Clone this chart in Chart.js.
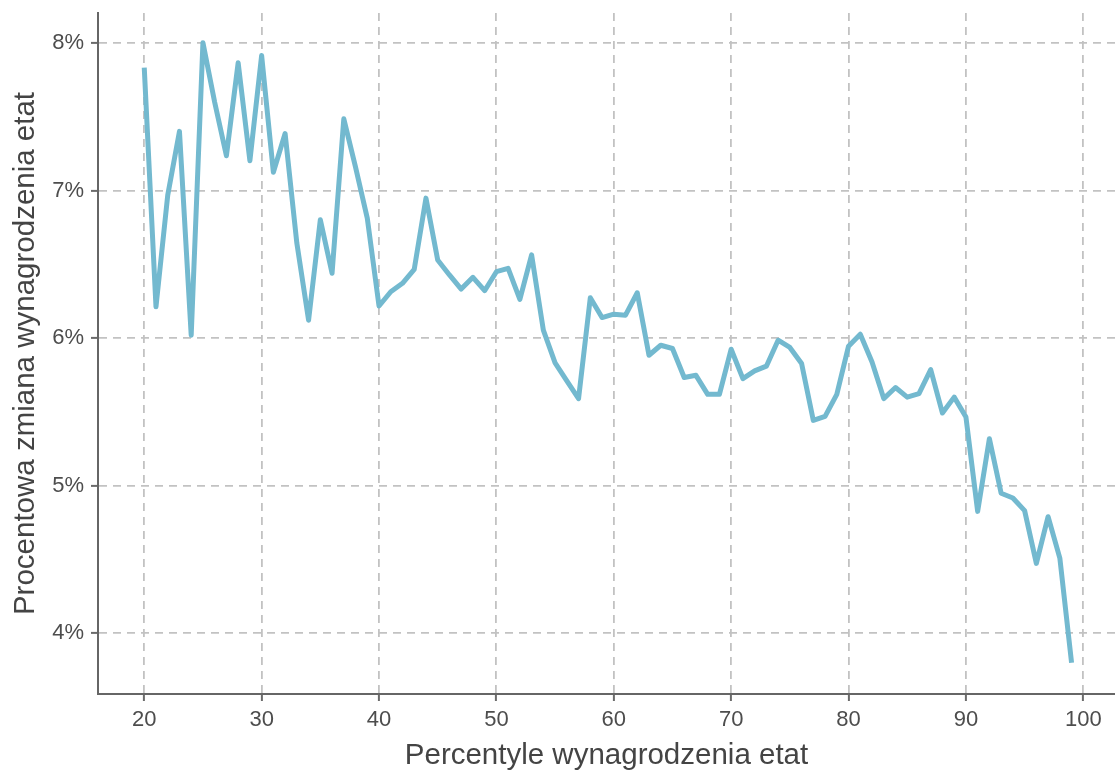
<!DOCTYPE html>
<html>
<head>
<meta charset="utf-8">
<script src="https://cdn.jsdelivr.net/npm/chart.js@4/dist/chart.umd.min.js"></script>
<style>
  html, body { margin:0; padding:0; background:#fff; }
  #wrap { width:1115px; height:774px; }
</style>
</head>
<body>
<div id="wrap"><canvas id="chart" width="1115" height="774"></canvas></div>
<script>
// percentyle 20..99
const percentiles = [
  20, 21, 22, 23, 24, 25, 26, 27, 28, 29,
  30, 31, 32, 33, 34, 35, 36, 37, 38, 39,
  40, 41, 42, 43, 44, 45, 46, 47, 48, 49,
  50, 51, 52, 53, 54, 55, 56, 57, 58, 59,
  60, 61, 62, 63, 64, 65, 66, 67, 68, 69,
  70, 71, 72, 73, 74, 75, 76, 77, 78, 79,
  80, 81, 82, 83, 84, 85, 86, 87, 88, 89,
  90, 91, 92, 93, 94, 95, 96, 97, 98, 99
];

// procentowa zmiana (w %)
const changePct = [
  7.835, 6.213, 6.97, 7.403, 6.02, 8.005, 7.6, 7.238, 7.868, 7.204,
  7.918, 7.125, 7.388, 6.644, 6.122, 6.803, 6.44, 7.488, 7.16, 6.814,
  6.218, 6.315, 6.372, 6.467, 6.95, 6.53, 6.429, 6.333, 6.413, 6.322,
  6.451, 6.474, 6.263, 6.565, 6.054, 5.832, 5.71, 5.59, 6.274, 6.14,
  6.163, 6.156, 6.308, 5.884, 5.952, 5.93, 5.733, 5.748, 5.619, 5.619,
  5.925, 5.726, 5.778, 5.81, 5.986, 5.937, 5.828, 5.442, 5.469, 5.619,
  5.946, 6.027, 5.839, 5.59, 5.665, 5.60, 5.624, 5.787, 5.492, 5.60,
  5.465, 4.825, 5.318, 4.948, 4.916, 4.83, 4.472, 4.789, 4.508, 3.798
];

const xTicks = [20, 30, 40, 50, 60, 70, 80, 90, 100];
const yTicks = [4, 5, 6, 7, 8];

const points = percentiles.map((p, i) => ({ x: p, y: changePct[i] }));

const font = "'Liberation Sans', Arial, sans-serif";

// shared grid / axis look
const gridOpts = {
    color: '#c2c2c2',
    lineWidth: 1.8,
    tickLength: 7,
    tickColor: '#6b6b6b',
    tickWidth: 2,
    tickBorderDash: []
};
const borderOpts = { display: true, color: '#666', width: 2, dash: [8, 6] };

new Chart(document.getElementById('chart').getContext('2d'), {
    type: 'line',
    data: {
        datasets: [{
            data: points,
            borderColor: '#73b9cf',
            borderWidth: 5,
            borderJoinStyle: 'round',
            borderCapStyle: 'butt',
            pointRadius: 0,
            tension: 0,
            fill: false
        }]
    },
    options: {
        responsive: false,
        animation: false,
        devicePixelRatio: 1,
        layout: { padding: { top: 13, right: 0, bottom: 0, left: 0 } },
        plugins: { legend: { display: false }, tooltip: { enabled: false } },
        scales: {
            x: {
                type: 'linear',
                min: 16.06,
                max: 102.7,
                afterBuildTicks: s => { s.ticks = xTicks.map(v => ({ value: v })); },
                afterFit: s => { s.height = 80; s.paddingLeft = 0; s.paddingRight = 0; },
                grid: gridOpts,
                border: borderOpts,
                ticks: {
                    color: '#4d4d4d',
                    font: { family: font, size: 22 },
                    padding: 6,
                    maxRotation: 0
                },
                title: {
                    display: true,
                    text: 'Percentyle wynagrodzenia etat',
                    color: '#444',
                    font: { family: font, size: 29.5 },
                    padding: { top: 2, bottom: 0 }
                }
            },
            y: {
                min: 3.586,
                max: 8.206,
                afterBuildTicks: s => { s.ticks = yTicks.map(v => ({ value: v })); },
                afterFit: s => { s.width = 98; s.paddingTop = 0; s.paddingBottom = 0; },
                grid: gridOpts,
                border: borderOpts,
                ticks: {
                    color: '#4d4d4d',
                    font: { family: font, size: 22 },
                    padding: 7,
                    callback: v => v + '%'
                },
                title: {
                    display: true,
                    text: 'Procentowa zmiana wynagrodzenia etat',
                    color: '#444',
                    font: { family: font, size: 29.5 },
                    padding: { top: 8, bottom: 0 }
                }
            }
        }
    }
});
</script>
</body>
</html>
